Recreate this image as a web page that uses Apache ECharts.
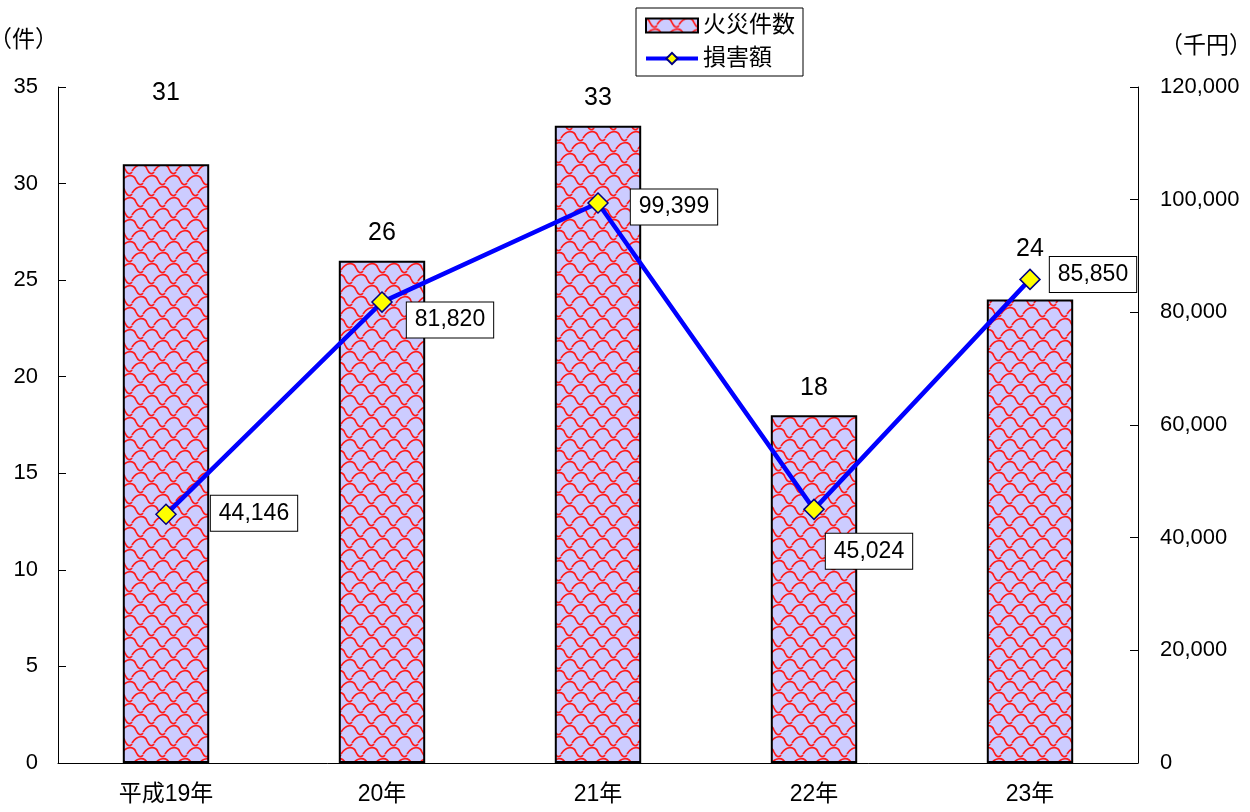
<!DOCTYPE html>
<html>
<head>
<meta charset="utf-8">
<script src="https://cdn.jsdelivr.net/npm/echarts@6/dist/echarts.min.js"></script>
<style>
  html, body { margin: 0; padding: 0; background: #fff; }
  #main { width: 1250px; height: 812px; }
</style>
</head>
<body>
<div id="main"></div>
<script>
const categories = ["平成19年", "20年", "21年", "22年", "23年"];
const fireCounts = [31, 26, 33, 18, 24];
const damageAmounts = [44146, 81820, 99399, 45024, 85850];

// label nudges (px) so the boxes sit like the original
const countLabelDist = [59, 15, 15, 15, 38];
const damageLabelOffset = [[88, -1], [68, 18], [76, 4], [55, 42], [63, -5]];

const FONT = "'Liberation Sans', 'Noto Sans CJK JP', sans-serif";

// red scale pattern on lavender, like the Excel fill
function makePattern() {
  const c = document.createElement("canvas");
  const s = 22;
  c.width = s; c.height = s;
  const ctx = c.getContext("2d");
  ctx.fillStyle = "#ccccff";
  ctx.fillRect(0, 0, s, s);
  ctx.strokeStyle = "#ff1a1a";
  ctx.lineWidth = 1.7;
  const arc = (x, y) => {
    ctx.beginPath();
    ctx.moveTo(x - 11, y);
    ctx.bezierCurveTo(x - 6, y - 8, x + 2, y - 8, x + 4, y - 2);
    ctx.bezierCurveTo(x + 6, y + 3, x + 9, y + 4, x + 11, y + 1);
    ctx.stroke();
  };
  [[0, 6], [22, 6], [11, 17], [-11, 17], [33, 17], [0, 28], [22, 28], [11, -5]].forEach(p => arc(p[0], p[1]));
  return c;
}
const pattern = { image: makePattern(), repeat: "repeat" };

const chart = echarts.init(document.getElementById("main"));

const option = {
  animation: false,
  textStyle: { fontFamily: FONT, color: "#000" },
  grid: { left: 58, right: 112, top: 87, bottom: 49, containLabel: false, outerBoundsMode: "none" },
  legend: {
    orient: "vertical",
    left: 636,
    top: 8,
    padding: [6, 8, 6, 8],
    itemGap: 10,
    itemWidth: 52,
    itemHeight: 14,
    borderColor: "#000",
    borderWidth: 1,
    textStyle: { fontSize: 23, fontFamily: FONT, color: "#000" },
    data: [
      { name: "火災件数", icon: "rect" },
      { name: "損害額", lineStyle: { width: 4 } }
    ]
  },
  xAxis: {
    type: "category",
    data: categories,
    axisLine: { lineStyle: { color: "#000", width: 1 } },
    axisTick: { inside: true, length: 8, lineStyle: { color: "#000" } },
    axisLabel: { fontSize: 23, color: "#000", margin: 20, fontFamily: FONT }
  },
  yAxis: [
    {
      type: "value",
      min: 0, max: 35, interval: 5,
      name: "（件）",
      nameLocation: "end",
      nameGap: 35,
      nameTextStyle: { fontSize: 23, align: "right", color: "#000", fontFamily: FONT },
      axisLine: { show: true, lineStyle: { color: "#000" } },
      axisTick: { show: true, inside: true, length: 8, lineStyle: { color: "#000" } },
      axisLabel: { fontSize: 22, color: "#000", margin: 20, fontFamily: FONT },
      splitLine: { show: false }
    },
    {
      type: "value",
      min: 0, max: 120000, interval: 20000,
      name: "（千円）",
      nameLocation: "end",
      nameGap: 29,
      nameTextStyle: { fontSize: 23, align: "left", padding: [0, 0, 0, 22], color: "#000", fontFamily: FONT },
      axisLine: { show: true, lineStyle: { color: "#000" } },
      axisTick: { show: true, inside: true, length: 8, lineStyle: { color: "#000" } },
      axisLabel: {
        fontSize: 22, color: "#000", margin: 22, fontFamily: FONT,
        formatter: v => v.toLocaleString("en-US")
      },
      splitLine: { show: false }
    }
  ],
  series: [
    {
      name: "火災件数",
      type: "bar",
      barWidth: "40%",
      itemStyle: { color: pattern, borderColor: "#000", borderWidth: 2 },
      data: fireCounts.map((v, i) => ({
        value: v,
        label: { distance: countLabelDist[i] }
      })),
      label: { show: true, position: "top", fontSize: 25, color: "#000", fontFamily: FONT }
    },
    {
      name: "損害額",
      type: "line",
      yAxisIndex: 1,
      symbol: "diamond",
      symbolSize: 20,
      lineStyle: { color: "#0000ff", width: 4.5 },
      itemStyle: { color: "#ffff00", borderColor: "#000080", borderWidth: 1.5 },
      data: damageAmounts.map((v, i) => ({
        value: v,
        label: { offset: damageLabelOffset[i] }
      })),
      label: {
        show: true,
        position: "inside",
        fontSize: 23,
        color: "#000",
        fontFamily: FONT,
        backgroundColor: "#fff",
        borderColor: "#000",
        borderWidth: 1,
        padding: [7, 8, 5, 8],
        formatter: p => p.value.toLocaleString("en-US")
      },
      z: 5
    }
  ]
};

chart.setOption(option);
</script>
</body>
</html>
